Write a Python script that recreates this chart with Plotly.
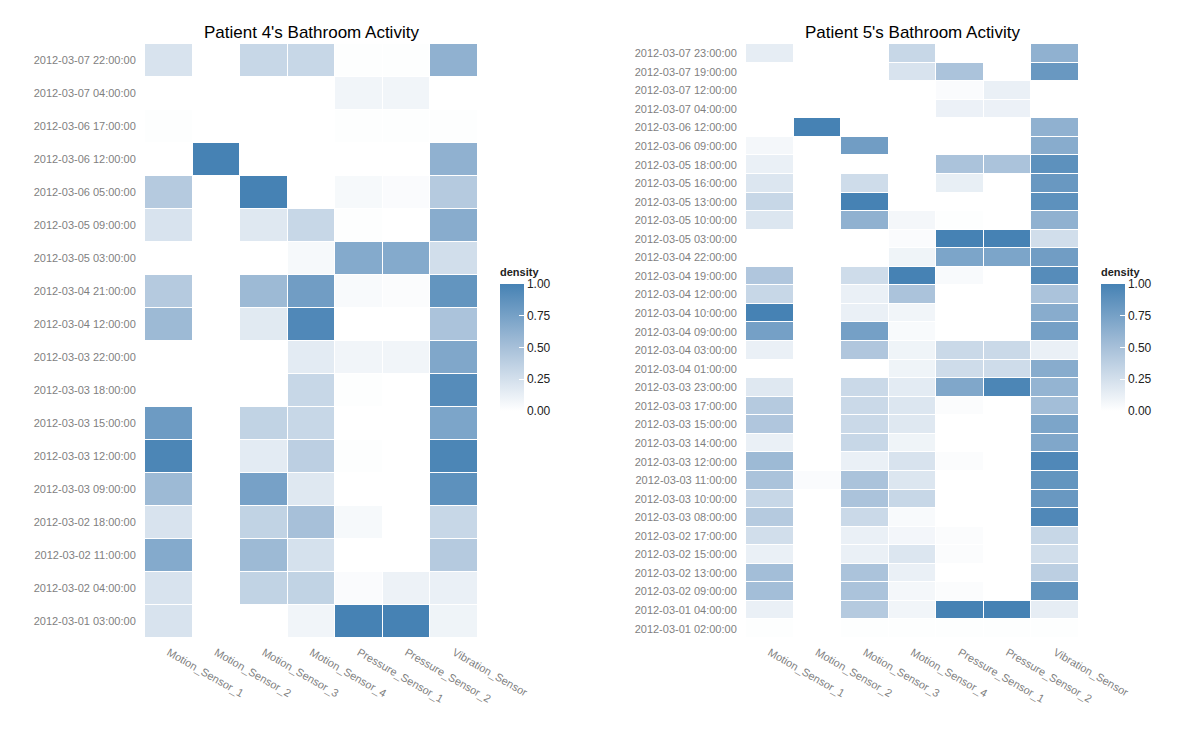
import plotly.graph_objects as go

sensors = ["Motion_Sensor_1", "Motion_Sensor_2", "Motion_Sensor_3", "Motion_Sensor_4",
           "Pressure_Sensor_1", "Pressure_Sensor_2", "Vibration_Sensor"]

# Patient 4 (rows listed top to bottom)
p4_times = [
    "2012-03-07 22:00:00", "2012-03-07 04:00:00", "2012-03-06 17:00:00", "2012-03-06 12:00:00",
    "2012-03-06 05:00:00", "2012-03-05 09:00:00", "2012-03-05 03:00:00", "2012-03-04 21:00:00",
    "2012-03-04 12:00:00", "2012-03-03 22:00:00", "2012-03-03 18:00:00", "2012-03-03 15:00:00",
    "2012-03-03 12:00:00", "2012-03-03 09:00:00", "2012-03-02 18:00:00", "2012-03-02 11:00:00",
    "2012-03-02 04:00:00", "2012-03-01 03:00:00",
]
p4_density = [
    [0.22, 0.00, 0.32, 0.32, 0.01, 0.01, 0.62],
    [0.00, 0.00, 0.00, 0.00, 0.08, 0.08, 0.00],
    [0.01, 0.00, 0.00, 0.00, 0.01, 0.01, 0.01],
    [0.00, 1.00, 0.00, 0.00, 0.00, 0.00, 0.62],
    [0.42, 0.00, 1.00, 0.00, 0.05, 0.03, 0.42],
    [0.22, 0.00, 0.18, 0.32, 0.01, 0.00, 0.66],
    [0.00, 0.00, 0.00, 0.05, 0.68, 0.68, 0.26],
    [0.42, 0.00, 0.55, 0.78, 0.04, 0.02, 0.85],
    [0.55, 0.00, 0.17, 0.95, 0.00, 0.00, 0.48],
    [0.00, 0.00, 0.00, 0.16, 0.08, 0.08, 0.70],
    [0.00, 0.00, 0.00, 0.32, 0.01, 0.00, 0.92],
    [0.80, 0.00, 0.35, 0.32, 0.00, 0.00, 0.72],
    [0.97, 0.00, 0.16, 0.38, 0.01, 0.00, 0.97],
    [0.55, 0.00, 0.75, 0.18, 0.00, 0.00, 0.88],
    [0.22, 0.00, 0.35, 0.50, 0.05, 0.00, 0.32],
    [0.68, 0.00, 0.55, 0.24, 0.00, 0.00, 0.42],
    [0.22, 0.00, 0.35, 0.35, 0.03, 0.10, 0.12],
    [0.22, 0.00, 0.00, 0.08, 1.00, 1.00, 0.09],
]

# Patient 5 (rows listed top to bottom)
p5_times = [
    "2012-03-07 23:00:00", "2012-03-07 19:00:00", "2012-03-07 12:00:00", "2012-03-07 04:00:00",
    "2012-03-06 12:00:00", "2012-03-06 09:00:00", "2012-03-05 18:00:00", "2012-03-05 16:00:00",
    "2012-03-05 13:00:00", "2012-03-05 10:00:00", "2012-03-05 03:00:00", "2012-03-04 22:00:00",
    "2012-03-04 19:00:00", "2012-03-04 12:00:00", "2012-03-04 10:00:00", "2012-03-04 09:00:00",
    "2012-03-04 03:00:00", "2012-03-04 01:00:00", "2012-03-03 23:00:00", "2012-03-03 17:00:00",
    "2012-03-03 15:00:00", "2012-03-03 14:00:00", "2012-03-03 12:00:00", "2012-03-03 11:00:00",
    "2012-03-03 10:00:00", "2012-03-03 08:00:00", "2012-03-02 17:00:00", "2012-03-02 15:00:00",
    "2012-03-02 13:00:00", "2012-03-02 09:00:00", "2012-03-01 04:00:00", "2012-03-01 02:00:00",
]
p5_density = [
    [0.14, 0.00, 0.00, 0.32, 0.00, 0.00, 0.62],
    [0.00, 0.00, 0.00, 0.22, 0.48, 0.00, 0.82],
    [0.00, 0.00, 0.00, 0.00, 0.03, 0.12, 0.00],
    [0.00, 0.00, 0.00, 0.00, 0.11, 0.11, 0.00],
    [0.00, 1.00, 0.00, 0.00, 0.00, 0.00, 0.62],
    [0.06, 0.00, 0.78, 0.00, 0.00, 0.00, 0.66],
    [0.12, 0.00, 0.00, 0.00, 0.48, 0.48, 0.88],
    [0.20, 0.00, 0.28, 0.00, 0.13, 0.00, 0.82],
    [0.32, 0.00, 1.00, 0.00, 0.00, 0.00, 0.88],
    [0.20, 0.00, 0.62, 0.06, 0.01, 0.00, 0.62],
    [0.00, 0.00, 0.00, 0.03, 1.00, 1.00, 0.26],
    [0.00, 0.00, 0.00, 0.09, 0.72, 0.72, 0.78],
    [0.45, 0.00, 0.28, 1.00, 0.04, 0.00, 0.92],
    [0.32, 0.00, 0.12, 0.48, 0.00, 0.00, 0.48],
    [1.00, 0.00, 0.12, 0.08, 0.00, 0.00, 0.66],
    [0.76, 0.00, 0.76, 0.04, 0.00, 0.00, 0.76],
    [0.12, 0.00, 0.45, 0.09, 0.30, 0.30, 0.12],
    [0.00, 0.00, 0.00, 0.09, 0.28, 0.28, 0.66],
    [0.18, 0.00, 0.30, 0.16, 0.70, 0.97, 0.60],
    [0.42, 0.00, 0.30, 0.20, 0.02, 0.00, 0.52],
    [0.45, 0.00, 0.30, 0.18, 0.00, 0.00, 0.72],
    [0.12, 0.00, 0.32, 0.09, 0.00, 0.00, 0.70],
    [0.55, 0.00, 0.12, 0.22, 0.02, 0.00, 0.95],
    [0.48, 0.03, 0.48, 0.20, 0.00, 0.00, 0.85],
    [0.32, 0.00, 0.48, 0.32, 0.00, 0.00, 0.82],
    [0.42, 0.00, 0.30, 0.04, 0.00, 0.00, 0.95],
    [0.26, 0.00, 0.12, 0.07, 0.02, 0.00, 0.32],
    [0.12, 0.00, 0.12, 0.20, 0.02, 0.00, 0.26],
    [0.52, 0.00, 0.48, 0.12, 0.00, 0.00, 0.38],
    [0.52, 0.00, 0.48, 0.06, 0.02, 0.00, 0.85],
    [0.12, 0.00, 0.42, 0.08, 1.00, 1.00, 0.14],
    [0.01, 0.00, 0.01, 0.01, 0.01, 0.01, 0.01],
]

W, H = 1200, 737
OX, OY = 8, 8  # page offset of the plot div
FONT = "Liberation Sans, Arial, sans-serif"
scale = [[0.0, "#ffffff"], [0.5, "#a7c0d9"], [1.0, "#4682b4"]]
tick_font = dict(family=FONT, size=11, color="#7f7f7f")

def px(x):
    return (x - OX) / W

def py(y):
    return 1 - (y - OY) / H

def cbar(x_px):
    return dict(
        x=px(x_px), xanchor="left", xpad=0, ypad=0,
        y=py(411), yanchor="bottom",
        len=127 / H, lenmode="fraction", thickness=24,
        outlinewidth=0, tickvals=[0, 0.25, 0.5, 0.75, 1.0],
        ticktext=["0.00", "0.25", "0.50", "0.75", "1.00"],
        ticks="inside", ticklen=5, tickcolor="white",
        tickfont=dict(family=FONT, size=12, color="#222"),
    )

fig = go.Figure()
fig.add_trace(go.Heatmap(z=p4_density, x=sensors, y=p4_times, xaxis="x", yaxis="y",
                         coloraxis="coloraxis", xgap=1, ygap=1))
fig.add_trace(go.Heatmap(z=p5_density, x=sensors, y=p5_times, xaxis="x2", yaxis="y2",
                         coloraxis="coloraxis2", xgap=1, ygap=1))

ydom = [py(638), py(44)]
axis_common = dict(type="category", showgrid=False, zeroline=False, showline=False, tickfont=tick_font,
                   automargin=False, ticks="outside", tickcolor="rgba(0,0,0,0)")

def title_ann(text, xc):
    return dict(text=text, x=px(xc), y=py(33), xref="paper", yref="paper",
                showarrow=False, xanchor="center", yanchor="middle",
                font=dict(size=17, color="black", family=FONT))

def cb_title(x_px):
    return dict(text="<b>density</b>", x=px(x_px), y=py(272), xref="paper", yref="paper",
                showarrow=False, xanchor="left", yanchor="middle",
                font=dict(size=11, color="#222", family=FONT))

fig.update_layout(
    width=W, height=H,
    margin=dict(l=0, r=0, t=0, b=0),
    paper_bgcolor="white", plot_bgcolor="white",
    font=dict(family=FONT),
    xaxis=dict(domain=[px(145), px(478)], anchor="y", tickangle=30, ticklen=3, **axis_common),
    yaxis=dict(domain=ydom, anchor="x", autorange="reversed", ticklen=6, **axis_common),
    xaxis2=dict(domain=[px(746), px(1079)], anchor="y2", tickangle=30, ticklen=3, **axis_common),
    yaxis2=dict(domain=ydom, anchor="x2", autorange="reversed", ticklen=6, **axis_common),
    coloraxis=dict(colorscale=scale, cmin=0, cmax=1, colorbar=cbar(500)),
    coloraxis2=dict(colorscale=scale, cmin=0, cmax=1, colorbar=cbar(1101)),
    annotations=[
        title_ann("Patient 4's Bathroom Activity", 311.5),
        title_ann("Patient 5's Bathroom Activity", 912.5),
        cb_title(498),
        cb_title(1099),
    ],
)

fig.write_html("out.html")
